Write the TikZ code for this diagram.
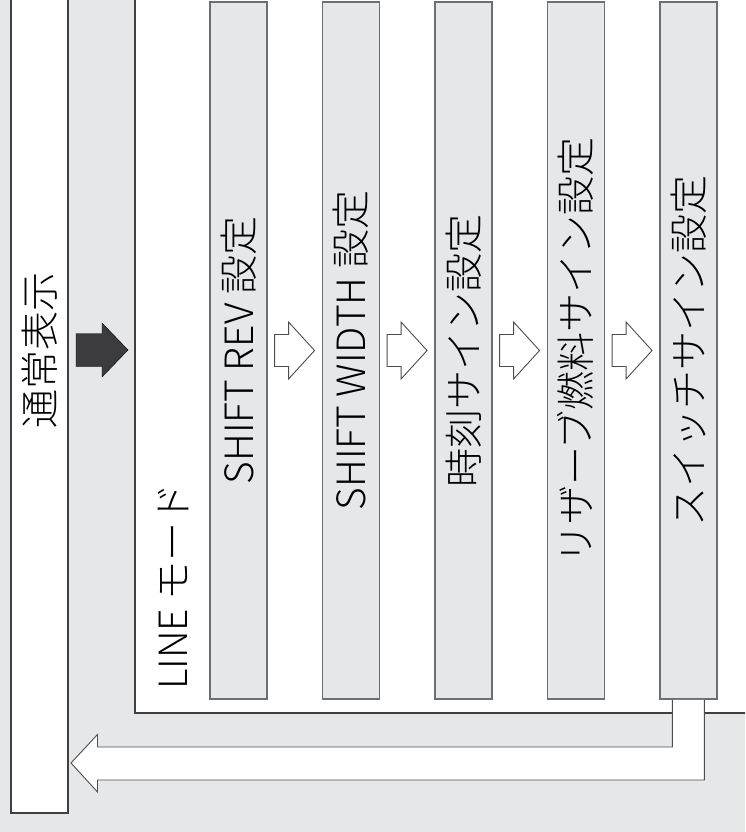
\documentclass[tikz,border=0pt]{standalone}
\usepackage{fontspec}
\IfFontExistsTF{Noto Sans CJK JP Light}
    {\newfontfamily\jpfont{Noto Sans CJK JP Light}}
    {\newfontfamily\jpfont{Noto Sans CJK JP}}
\usetikzlibrary{positioning,calc}
\definecolor{panelgray}{HTML}{E6E7E8}
\definecolor{framedark}{HTML}{404041}
\definecolor{boxedge}{HTML}{6D6E71}
\definecolor{arrowedge}{HTML}{4D4D4F}
\definecolor{arrowdark}{HTML}{3C3B3D}

\begin{document}
\begin{tikzpicture}[
    x=1pt, y=-1pt,
    every node/.style={font=\jpfont\fontsize{39}{44}\selectfont},
    framebox/.style={
        draw=framedark, fill=white, line width=2pt, inner sep=0pt
    },
    stepbox/.style={
        draw=boxedge, fill=panelgray, line width=1.5pt, inner sep=0pt,
        minimum width=57pt, minimum height=697pt
    },
    steplabel/.style={rotate=90, inner sep=0pt, text=black},
    hollowarr/.style={draw=arrowedge, fill=white, line width=0.9pt, line join=miter},
    solidarr/.style={fill=arrowdark},
]

\useasboundingbox (0,0) rectangle (745,832);
\fill[panelgray] (0,0) rectangle (745,832);
\clip (0,0) rectangle (745,832);

% === Left: normal display ===
\node[framebox, minimum width=57pt, minimum height=828pt] (normal) at (39.5,399) {};
\node[steplabel] (normallabel) at (39.5,350) {通常表示};

% === LINE mode frame ===
\node[framebox, minimum width=625pt, minimum height=728pt] (linemode) at (447.5,349) {};
\node[steplabel, anchor=west] (modelabel) at (173,690) {LINE モード};

% === Setting steps ===
\node[stepbox] (b1) at (238.3,350.5) {};
\node[stepbox, right=54pt of b1] (b2) {};
\node[stepbox, right=54pt of b2] (b3) {};
\node[stepbox, right=54pt of b3] (b4) {};
\node[stepbox, right=54pt of b4] (b5) {};

\node[steplabel] (l1) at (b1.center) {SHIFT REV 設定};
\node[steplabel] (l2) at (b2.center) {SHIFT WIDTH 設定};
\node[steplabel] (l3) at (b3.center) {時刻サイン設定};
\node[steplabel] (l4) at (b4.center) {リザーブ燃料サイン設定};
\node[steplabel] (l5) at (b5.center) {スイッチサイン設定};

% Step arrows
\foreach \a/\b in {b1/b2,b2/b3,b3/b4,b4/b5} {
    \draw[hollowarr] ($(\a.east)!0.5!(\b.west)$) ++(-20,-16) -- ++(14,0) -- ++(0,-12.5)
        -- ++(26,28.5) -- ++(-26,28.5) -- ++(0,-12.5) -- ++(-14,0) -- cycle;
}

% Enter arrow
\draw[solidarr] ($(normal.east |- 0,350)!0.5!(linemode.west |- 0,350)$) ++(-25.5,-16.5)
    -- ++(26,0) -- ++(0,-10.5) -- ++(26,27) -- ++(-26,27) -- ++(0,-10.5) -- ++(-26,0) -- cycle;

% Return arrow
\coordinate (rettip) at (71,763);
\draw[hollowarr] ([xshift=-16pt]b5.south) |- ([xshift=26.5pt,yshift=16pt]rettip)
    -- ++(0,-12.5) -- (rettip) -- ++(26.5,29) -- ++(0,-12) -| ([xshift=16pt]b5.south);

\end{tikzpicture}
\end{document}
